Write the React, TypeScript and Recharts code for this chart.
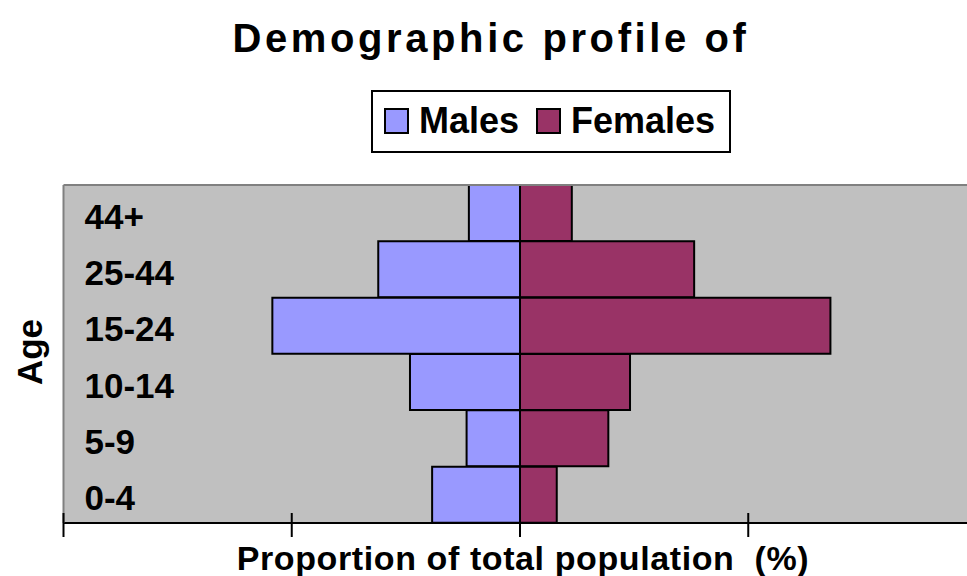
import React from 'react';
import { BarChart, Bar, XAxis, YAxis, ReferenceLine, CartesianGrid } from 'recharts';

const AGE_GROUPS = ['44+', '25-44', '15-24', '10-14', '5-9', '0-4'];
const MALES = [2.24, 6.21, 10.85, 4.82, 2.34, 3.85];
const FEMALES = [2.27, 7.63, 13.6, 4.82, 3.87, 1.61];
const X_TICKS = [-20, -10, 0, 10, 20];
const SERIES_NAMES = ['Males', 'Females'];
const SERIES_COLORS = ['#9999FF', '#993366'];
const TITLE = 'Demographic profile of';
const X_LABEL = 'Proportion of total population  (%)';
const Y_LABEL = 'Age';

const FONT = '"Liberation Sans", Arial, sans-serif';

const data = AGE_GROUPS.map((g, i) => ({ age: g, Males: -MALES[i], Females: FEMALES[i] }));

const XTick = (props: any) => {
  const { x, y } = props;
  return <line x1={x} x2={x} y1={y - 10} y2={y + 14} stroke="#000" strokeWidth={2} />;
};

const YTick = (props: any) => {
  const { x, y, payload } = props;
  return (
    <text x={x + 21} y={y + 3} textAnchor="start" dominantBaseline="central"
      fontFamily={FONT} fontWeight="bold" fontSize={35} fill="#000">
      {payload.value}
    </text>
  );
};

const XLabel = (props: any) => {
  const vb = props.viewBox || {};
  const cx = vb.x + vb.width / 2 + 3;
  return (
    <text x={cx} y={570} textAnchor="middle" fontFamily={FONT} fontWeight="bold"
      fontSize={34} letterSpacing={0.6} fill="#000" style={{ whiteSpace: 'pre' }}>
      {X_LABEL}
    </text>
  );
};

const YLabel = (props: any) => {
  const vb = props.viewBox || {};
  const cy = vb.y + vb.height / 2 - 2;
  const cx = 29;
  return (
    <text x={cx} y={cy} textAnchor="middle" dominantBaseline="central"
      transform={`rotate(-90, ${cx}, ${cy})`} fontFamily={FONT} fontWeight="bold"
      fontSize={35} fill="#000">
      {Y_LABEL}
    </text>
  );
};

const LEGEND_ITEM_X = [385, 537];

export default function App() {
  return (
    <div style={{ position: 'absolute', left: 0, top: 0, width: 967, height: 576, overflow: 'hidden', background: '#fff' }}>
      <BarChart
        width={1000}
        height={576}
        data={data}
        layout="vertical"
        stackOffset="sign"
        barCategoryGap={0}
        margin={{ top: 184, right: 23.5, bottom: 23, left: 0 }}
      >
        <CartesianGrid fill="#C0C0C0" horizontal={false} vertical={false} />
        <XAxis
          xAxisId="top"
          orientation="top"
          type="number"
          domain={[-20, 20]}
          height={1}
          tick={false}
          tickLine={false}
          axisLine={{ stroke: '#808080', strokeWidth: 2 }}
        />
        <XAxis
          xAxisId="bottom"
          orientation="bottom"
          type="number"
          domain={[-20, 20]}
          ticks={X_TICKS}
          interval={0}
          height={30}
          tickSize={0}
          tickMargin={0}
          tickLine={false}
          tick={<XTick />}
          axisLine={{ stroke: '#000', strokeWidth: 2 }}
          label={<XLabel />}
        />
        <YAxis
          type="category"
          dataKey="age"
          width={63.5}
          tickSize={0}
          tickMargin={0}
          tickLine={false}
          tick={<YTick />}
          interval={0}
          axisLine={{ stroke: '#808080', strokeWidth: 2 }}
          label={<YLabel />}
        />
        <Bar dataKey="Males" name="Males" xAxisId="bottom" stackId="a" fill={SERIES_COLORS[0]}
          stroke="#000" strokeWidth={2} isAnimationActive={false} />
        <Bar dataKey="Females" name="Females" xAxisId="bottom" stackId="a" fill={SERIES_COLORS[1]}
          stroke="#000" strokeWidth={2} isAnimationActive={false} />
        <ReferenceLine x={0} xAxisId="bottom" stroke="#000" strokeWidth={2} />
      </BarChart>
      <svg width={967} height={576} style={{ position: 'absolute', left: 0, top: 0, pointerEvents: 'none' }}>
        <text x={491} y={52} textAnchor="middle" fontFamily={FONT} fontWeight="bold"
          fontSize={40} letterSpacing={3.6} fill="#000">
          {TITLE}
        </text>
        <rect x={372} y={91} width={358} height={61} fill="#fff" stroke="#000" strokeWidth={2} />
        {SERIES_NAMES.map((name, i) => (
          <g key={name}>
            <rect x={LEGEND_ITEM_X[i]} y={109} width={23} height={24} fill={SERIES_COLORS[i]}
              stroke="#000" strokeWidth={2} />
            <text x={LEGEND_ITEM_X[i] + 34} y={133} fontFamily={FONT} fontWeight="bold"
              fontSize={36} fill="#000">
              {name}
            </text>
          </g>
        ))}
      </svg>
    </div>
  );
}
